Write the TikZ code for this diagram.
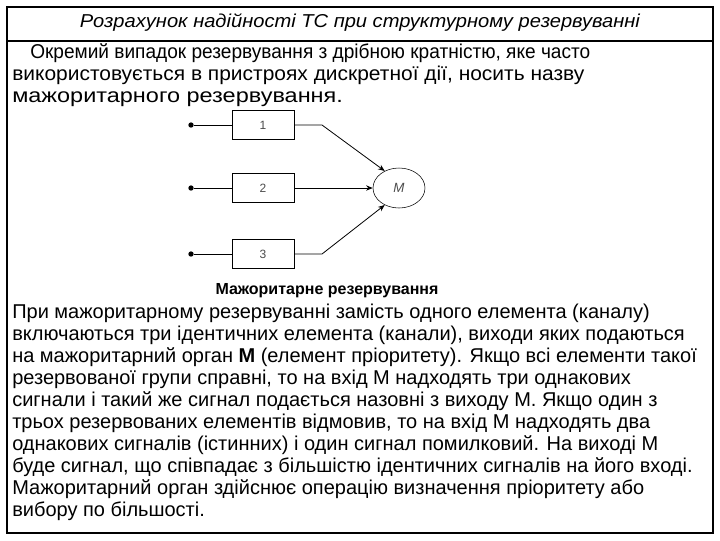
\documentclass[tikz,border=0pt]{standalone}
\usepackage{fontspec}
\setmainfont{Liberation Sans}
\usetikzlibrary{arrows.meta,shapes.geometric}
\begin{document}
\begin{tikzpicture}[x=0.75pt,y=-0.75pt,
  blk/.style={draw,minimum width=46.5pt,minimum height=21.75pt,inner sep=0pt,font=\fontsize{9}{10}\selectfont,text=black!70},
  dot/.style={circle,fill,inner sep=0pt,minimum size=4pt},
  wire/.style={line width=0.6pt},
  arr/.style={wire,-{Stealth[length=5pt,width=4pt]}},
  txt/.style={anchor=base west,inner sep=0pt,font=\fontsize{15}{18}\selectfont},
  top/.style={anchor=base west,inner sep=0pt,font=\fontsize{15}{18}\selectfont}]
\useasboundingbox (0,0) rectangle (720,540);
\fill[white] (0,0) rectangle (720,540);
\draw[line width=1pt] (7,7) rectangle (713,533);
\draw[line width=0.8pt] (7,41) -- (713,41);
\node[font=\fontsize{14}{16}\selectfont\itshape,inner sep=0pt] (title) at (360,23) {\resizebox{420pt}{\height}{Розрахунок надійності ТС при структурному резервуванні}};
\node[top] (t1) at (30,58) {\resizebox{420pt}{\height}{Окремий випадок резервування з дрібною кратністю, яке часто}};
\node[top] (t2) at (12,80) {\resizebox{429pt}{\height}{використовується в пристроях дискретної дії, носить назву}};
\node[top] (t3) at (12,102) {\resizebox{248pt}{\height}{мажоритарного резервування.}};
\node[blk] (b1) at (263,125) {1};
\node[blk] (b2) at (263,188) {2};
\node[blk] (b3) at (263,254) {3};
\node[dot] (d1) at (191,125) {};
\node[dot] (d2) at (191,188) {};
\node[dot] (d3) at (191,254) {};
\node[draw,ellipse,minimum width=39pt,minimum height=30pt,inner sep=0pt,font=\fontsize{10}{12}\selectfont\itshape,text=black!70] (m) at (399,188) {M};
\draw[wire] (d1) -- (b1.west);
\draw[wire] (d2) -- (b2.west);
\draw[wire] (d3) -- (b3.west);
\coordinate (k1) at (322,125);
\coordinate (k3) at (322,254);
\draw[arr] (b1.east) -- (k1) -- (m.130);
\draw[arr] (b2.east) -- (m.west);
\draw[arr] (b3.east) -- (k3) -- (m.230);
\node[font=\fontsize{12}{14}\selectfont\bfseries,inner sep=0pt] (cap) at (327,291) {Мажоритарне резервування};
\node[txt] (p1) at (12,318) {При мажоритарному резервуванні замість одного елемента (каналу)};
\node[txt] (p2) at (12,340) {включаються три ідентичних елемента (канали), виходи яких подаються};
\node[txt] (p3) at (12,362) {на мажоритарний орган \textbf{М} (елемент пріоритету). Якщо всі елементи такої};
\node[txt] (p4) at (12,384) {резервованої групи справні, то на вхід М надходять три однакових};
\node[txt] (p5) at (12,406) {сигнали і такий же сигнал подається назовні з виходу М. Якщо один з};
\node[txt] (p6) at (12,428) {трьох резервованих елементів відмовив, то на вхід М надходять два};
\node[txt] (p7) at (12,450) {однакових сигналів (істинних) і один сигнал помилковий. На виході М};
\node[txt] (p8) at (12,472) {буде сигнал, що співпадає з більшістю ідентичних сигналів на його вході.};
\node[txt] (p9) at (12,494) {Мажоритарний орган здійснює операцію визначення пріоритету або};
\node[txt] (p10) at (12,516) {вибору по більшості.};
\end{tikzpicture}
\end{document}
